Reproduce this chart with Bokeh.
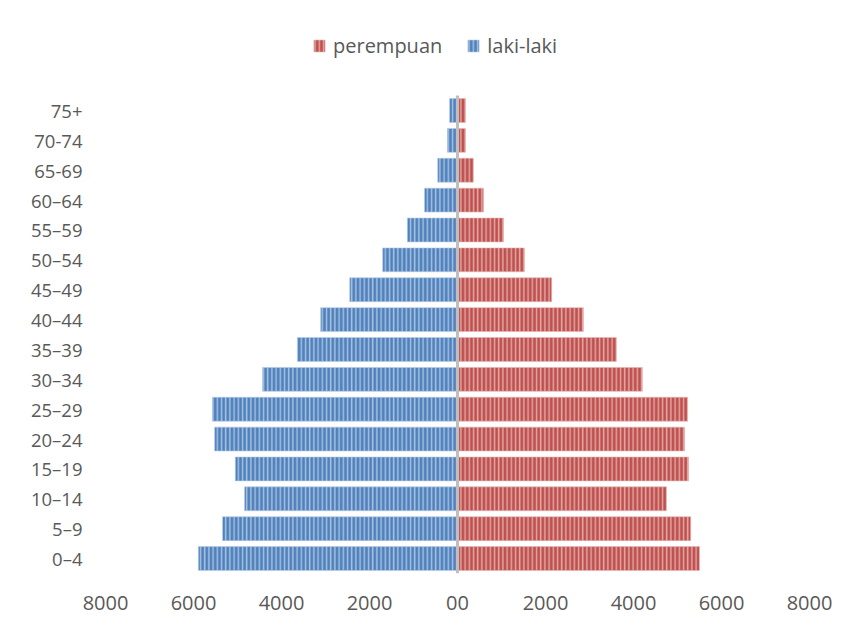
from bokeh.plotting import figure
from bokeh.models import ColumnDataSource, Range1d, FixedTicker, Legend, LegendItem
from bokeh.embed import file_html
from bokeh.resources import INLINE

age_groups = ["0–4", "5–9", "10–14", "15–19", "20–24", "25–29", "30–34", "35–39",
              "40–44", "45–49", "50–54", "55–59", "60–64", "65-69", "70-74", "75+"]
laki_laki = [5890, 5340, 4840, 5050, 5520, 5570, 4430, 3640, 3110, 2450, 1700, 1140, 750, 450, 230, 180]
perempuan = [5500, 5300, 4750, 5250, 5160, 5230, 4200, 3610, 2860, 2140, 1520, 1045, 590, 360, 180, 180]
x_ticks = [-8000, -6000, -4000, -2000, 0, 2000, 4000, 6000, 8000]

pos = list(range(len(age_groups)))
src = ColumnDataSource(dict(
    y=pos,
    male_left=[-v for v in laki_laki],
    female_right=perempuan,
    zero=[0] * len(pos),
))

p = figure(width=842, height=617, output_backend="svg", toolbar_location=None,
           x_range=Range1d(-8000, 8000), y_range=Range1d(-0.5, 18.08),
           min_border_left=105, min_border_right=33, min_border_top=18, min_border_bottom=44)
p.outline_line_color = None
p.xgrid.visible = False
p.ygrid.visible = False
p.background_fill_color = "white"
p.border_fill_color = "white"

red = p.hbar(y="y", left="zero", right="female_right", height=0.8, source=src,
             fill_color="#C0504D", line_color="#e6b8b7", line_width=0.6,
             hatch_pattern="|", hatch_color="white", hatch_alpha=0.5,
             hatch_scale=4.2, hatch_weight=1.5)
blue = p.hbar(y="y", left="male_left", right="zero", height=0.8, source=src,
              fill_color="#4F81BD", line_color="#b9cde5", line_width=0.6,
              hatch_pattern="|", hatch_color="white", hatch_alpha=0.5,
              hatch_scale=4.2, hatch_weight=1.5)

# vertical category axis line at zero
p.segment(x0=[0], y0=[-0.5], x1=[0], y1=[len(age_groups) - 0.5],
          line_color="#bfbfbf", line_width=3)

# x axis
p.xaxis.ticker = FixedTicker(ticks=x_ticks)
p.xaxis.major_label_overrides = {t: ("00" if t == 0 else str(abs(t))) for t in x_ticks}
p.xaxis.axis_line_color = None
p.xaxis.major_tick_line_color = None
p.xaxis.minor_tick_line_color = None
p.xaxis.major_label_text_font = "Open Sans"
p.xaxis.major_label_text_font_size = "20px"
p.xaxis.major_label_text_color = "#595959"
p.xaxis.major_label_standoff = 16

# y axis
p.yaxis.ticker = FixedTicker(ticks=pos)
p.yaxis.major_label_overrides = {i: lab for i, lab in zip(pos, age_groups)}
p.yaxis.axis_line_color = None
p.yaxis.major_tick_line_color = None
p.yaxis.minor_tick_line_color = None
p.yaxis.major_label_text_font = "Open Sans"
p.yaxis.major_label_text_font_size = "18.5px"
p.yaxis.major_label_text_color = "#595959"
p.yaxis.major_label_standoff = 17

legend = Legend(items=[LegendItem(label="perempuan", renderers=[red]),
                       LegendItem(label="laki-laki", renderers=[blue])],
                orientation="horizontal", location=(207, 514),
                label_text_font="Open Sans", label_text_font_size="20px",
                label_text_color="#595959", glyph_width=14, glyph_height=15,
                label_standoff=7, spacing=24, padding=0, margin=0,
                border_line_color=None, background_fill_alpha=0)
p.add_layout(legend, "center")

open("out.html", "w").write(file_html(p, INLINE))
